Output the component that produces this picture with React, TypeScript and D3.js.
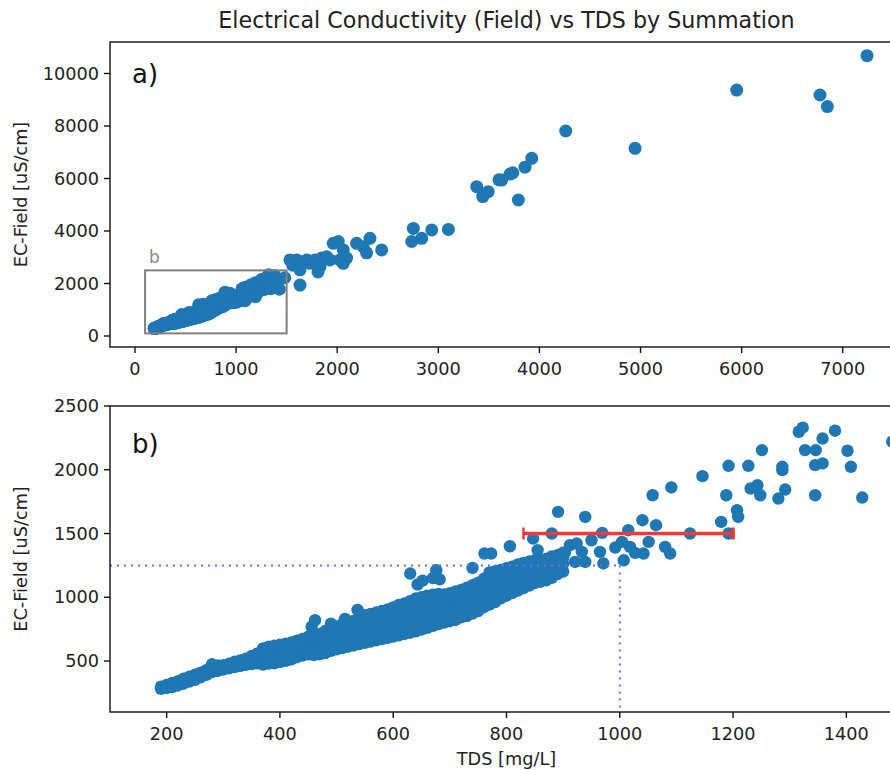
import React from "react";
import * as d3 from "d3";

// ---- data ----
// dense band: [TDS, [EC values]]
const denseBand: [number, number[]][] = [
  [190, [282, 298]], [200, [288, 312]], [210, [296, 328]], [220, [308, 342]],
  [230, [322, 362]], [240, [338, 376]], [250, [352, 392]], [260, [372, 408]],
  [270, [392, 428]], [280, [412, 448, 474]], [290, [422, 466]], [300, [432, 468]],
  [310, [442, 478]], [320, [452, 494]], [330, [461, 504]], [340, [470, 518]],
  [350, [476, 510, 540]], [360, [482, 522, 558]], [370, [472, 515, 558, 598]],
  [380, [480, 522, 570, 612]], [390, [482, 528, 578, 620]], [400, [492, 536, 590, 628]],
  [410, [502, 548, 600, 636]], [420, [512, 558, 612, 645]], [430, [530, 575, 625, 660]],
  [440, [542, 590, 638, 672]], [450, [552, 600, 648, 690]], [460, [546, 605, 660, 700]],
  [470, [552, 612, 668, 712]], [480, [562, 622, 682, 735]], [490, [580, 640, 700, 760]],
  [500, [592, 648, 712, 770]], [510, [602, 660, 725, 790]], [520, [612, 672, 738, 800]],
  [530, [622, 685, 752, 815]], [540, [632, 695, 765, 835]], [550, [642, 705, 780, 860]],
  [560, [652, 715, 790, 870]], [570, [662, 728, 805, 880]], [580, [672, 740, 820, 892]],
  [590, [682, 752, 835, 905]], [600, [692, 765, 850, 920]], [610, [702, 778, 865, 940]],
  [620, [712, 790, 880, 952]], [630, [722, 800, 890, 970]], [640, [732, 815, 905, 990]],
  [650, [746, 830, 920, 1000]], [660, [760, 845, 935, 1012]], [670, [776, 860, 945, 1020]],
  [680, [790, 870, 955, 1025]], [690, [802, 880, 960, 1022]], [700, [812, 890, 968, 1032]],
  [710, [822, 900, 978, 1045]], [720, [842, 915, 990, 1058]], [730, [852, 930, 1010, 1075]],
  [740, [872, 950, 1030, 1095]], [750, [892, 970, 1050, 1115]], [760, [922, 995, 1075, 1145]],
  [770, [942, 1020, 1105, 1195]], [780, [962, 1040, 1125, 1205]], [790, [992, 1070, 1145, 1215]],
  [800, [1012, 1090, 1160, 1228]], [810, [1032, 1110, 1178, 1240]], [820, [1052, 1130, 1198, 1258]],
  [830, [1072, 1150, 1215, 1270]], [840, [1092, 1165, 1225, 1280]], [850, [1112, 1180, 1240, 1290]],
  [860, [1122, 1190, 1250, 1290]], [870, [1132, 1200, 1260, 1300]], [880, [1152, 1215, 1275, 1320]],
  [890, [1182, 1240, 1290, 1330]], [900, [1202, 1260, 1310, 1350]],
];

// scattered points: [TDS, EC]
const scatterPoints: [number, number][] = [
  [456, 770], [462, 820], [490, 793], [515, 830], [537, 900], [630, 1186], [643, 1100],
  [652, 1130], [670, 1150], [676, 1212], [682, 1140], [710, 990], [740, 1230], [761, 1343],
  [773, 1343], [806, 1400], [847, 1460], [855, 1370], [880, 1500], [891, 1670], [903, 1348],
  [912, 1408], [921, 1277], [924, 1421], [933, 1356], [939, 1630], [939, 1277], [950, 1447],
  [965, 1356], [969, 1505], [971, 1265], [992, 1390], [1004, 1434], [1007, 1290], [1015, 1526],
  [1018, 1395], [1027, 1348], [1040, 1604], [1042, 1343], [1051, 1434], [1058, 1800],
  [1064, 1565], [1080, 1395], [1089, 1343], [1091, 1861], [1124, 1500], [1146, 1950],
  [1179, 1591], [1188, 1800], [1192, 2031], [1192, 1500], [1207, 1683], [1209, 1630],
  [1227, 2031], [1231, 1853], [1243, 1879], [1248, 1800], [1251, 2154], [1280, 1774],
  [1287, 1997], [1287, 2023], [1292, 1845], [1316, 2298], [1323, 2330], [1327, 2154],
  [1346, 2154], [1345, 2036], [1358, 2050], [1358, 2245], [1345, 1800], [1380, 2306],
  [1402, 2149], [1408, 2023], [1428, 1782], [1481, 2220],
];

const highPoints: [number, number][] = [
  [1533, 2900], [1560, 2700], [1600, 2900], [1632, 1940], [1632, 2520], [1700, 2900],
  [1731, 2770], [1780, 2900], [1810, 2440], [1830, 2640], [1846, 2970], [1895, 3020],
  [1928, 2900], [1961, 3530], [2011, 3600], [2027, 2900], [2060, 3280], [2060, 2770],
  [2093, 2970], [2192, 3530], [2258, 3400], [2291, 3170], [2324, 3720], [2440, 3280],
  [2737, 3600], [2753, 4100], [2836, 3720], [2935, 4040], [3100, 4060], [3380, 5690],
  [3440, 5310], [3445, 5370], [3494, 5500], [3600, 5950], [3627, 5940], [3710, 6170],
  [3737, 6220], [3792, 5180], [3858, 6430], [3924, 6770], [4260, 7810], [4946, 7150],
  [5951, 9370], [6775, 9180], [6848, 8740], [7240, 10680],
];

const topXTicks = [0, 1000, 2000, 3000, 4000, 5000, 6000, 7000];
const topYTicks = [0, 2000, 4000, 6000, 8000, 10000];
const botXTicks = [200, 400, 600, 800, 1000, 1200, 1400];
const botYTicks = [500, 1000, 1500, 2000, 2500];

const zoomBox = { x0: 100, x1: 1500, y0: 100, y1: 2500 };
const errBar = { y: 1500, x0: 830, x1: 1200 };
const refLine = { tds: 1000, ec: 1250 };

const allPoints: [number, number][] = [
  ...denseBand.flatMap(([t, ecs]) => ecs.map((e) => [t, e] as [number, number])),
  ...scatterPoints,
  ...highPoints,
];

const FONT = "DejaVu Sans, sans-serif";
const TXT = "#222";
const BLUE = "#1f77b4";

export default function App() {
  const L = 110, R = 903;
  const topA = { t: 42, b: 347 };
  const botA = { t: 406, b: 712 };

  const xT = d3.scaleLinear().domain([-247, 7596]).range([L, R]);
  const yT = d3.scaleLinear().domain([-419, 11200]).range([topA.b, topA.t]);
  const xB = d3.scaleLinear().domain([100, 1500]).range([L, R]);
  const yB = d3.scaleLinear().domain([100, 2500]).range([botA.b, botA.t]);

  const fs = 17.7;

  return (
    <svg width={890} height={770} style={{ position: "absolute", left: 0, top: 0, background: "#fff" }}
      fontFamily={FONT}>
      <defs>
        <clipPath id="clipTop"><rect x={L} y={topA.t} width={R - L} height={topA.b - topA.t} /></clipPath>
        <clipPath id="clipBot"><rect x={L} y={botA.t} width={R - L} height={botA.b - botA.t} /></clipPath>
      </defs>
      <rect x={0} y={0} width={890} height={770} fill="#fff" />

      <text x={(L + R) / 2} y={28} textAnchor="middle" fontSize={22.2} fill={TXT}>
        Electrical Conductivity (Field) vs TDS by Summation
      </text>

      {/* top panel */}
      <g clipPath="url(#clipTop)">
        {allPoints.map(([t, e], i) => (
          <circle key={"t" + i} cx={xT(t)} cy={yT(e)} r={6.5} fill={BLUE} />
        ))}
        <rect x={xT(zoomBox.x0)} y={yT(zoomBox.y1)} width={xT(zoomBox.x1) - xT(zoomBox.x0)}
          height={yT(zoomBox.y0) - yT(zoomBox.y1)} fill="none" stroke="#808080" strokeWidth={2} />
      </g>
      <text x={xT(zoomBox.x0) + 4} y={yT(zoomBox.y1) - 7} fontSize={17} fill="#888">b</text>
      <text x={132} y={83} fontSize={26} fill="#111">a)</text>
      <rect x={L} y={topA.t} width={R - L} height={topA.b - topA.t} fill="none" stroke="#111" strokeWidth={1.4} />
      {topXTicks.map((v) => (
        <g key={"tx" + v}>
          <line x1={xT(v)} x2={xT(v)} y1={topA.b} y2={topA.b + 6} stroke="#111" strokeWidth={1.4} />
          <text x={xT(v)} y={375} textAnchor="middle" fontSize={fs} fill={TXT}>{v}</text>
        </g>
      ))}
      {topYTicks.map((v) => (
        <g key={"ty" + v}>
          <line x1={L - 6} x2={L} y1={yT(v)} y2={yT(v)} stroke="#111" strokeWidth={1.4} />
          <text x={L - 11} y={yT(v)} dy="0.35em" textAnchor="end" fontSize={fs} fill={TXT}>{v}</text>
        </g>
      ))}
      <text transform={`translate(27,${(topA.t + topA.b) / 2}) rotate(-90)`} textAnchor="middle"
        fontSize={fs} fill={TXT}>EC-Field [uS/cm]</text>

      {/* bottom panel */}
      <g clipPath="url(#clipBot)">
        {allPoints.map(([t, e], i) => (
          <circle key={"b" + i} cx={xB(t)} cy={yB(e)} r={6.2} fill={BLUE} />
        ))}
        <line x1={xB(zoomBox.x0)} x2={xB(refLine.tds)} y1={yB(refLine.ec)} y2={yB(refLine.ec)}
          stroke="#6b6bf0" strokeWidth={2} strokeDasharray="2,5" />
        <line x1={xB(refLine.tds)} x2={xB(refLine.tds)} y1={yB(refLine.ec)} y2={yB(zoomBox.y0)}
          stroke="#6b6bf0" strokeWidth={2} strokeDasharray="2,5" />
        <line x1={xB(errBar.x0)} x2={xB(errBar.x1)} y1={yB(errBar.y)} y2={yB(errBar.y)}
          stroke="#f03a3a" strokeWidth={3.5} />
        <line x1={xB(errBar.x0)} x2={xB(errBar.x0)} y1={yB(errBar.y) - 6} y2={yB(errBar.y) + 6}
          stroke="#f03a3a" strokeWidth={2.5} />
        <line x1={xB(errBar.x1)} x2={xB(errBar.x1)} y1={yB(errBar.y) - 6} y2={yB(errBar.y) + 6}
          stroke="#f03a3a" strokeWidth={3.5} />
      </g>
      <text x={132} y={453} fontSize={26} fill="#111">b)</text>
      <rect x={L} y={botA.t} width={R - L} height={botA.b - botA.t} fill="none" stroke="#111" strokeWidth={1.4} />
      {botXTicks.map((v) => (
        <g key={"bx" + v}>
          <line x1={xB(v)} x2={xB(v)} y1={botA.b} y2={botA.b + 6} stroke="#111" strokeWidth={1.4} />
          <text x={xB(v)} y={740} textAnchor="middle" fontSize={fs} fill={TXT}>{v}</text>
        </g>
      ))}
      {botYTicks.map((v) => (
        <g key={"by" + v}>
          <line x1={L - 6} x2={L} y1={yB(v)} y2={yB(v)} stroke="#111" strokeWidth={1.4} />
          <text x={L - 11} y={yB(v)} dy="0.35em" textAnchor="end" fontSize={fs} fill={TXT}>{v}</text>
        </g>
      ))}
      <text transform={`translate(27,${(botA.t + botA.b) / 2}) rotate(-90)`} textAnchor="middle"
        fontSize={fs} fill={TXT}>EC-Field [uS/cm]</text>
      <text x={(L + R) / 2} y={765} textAnchor="middle" fontSize={fs} fill={TXT}>TDS [mg/L]</text>
    </svg>
  );
}
